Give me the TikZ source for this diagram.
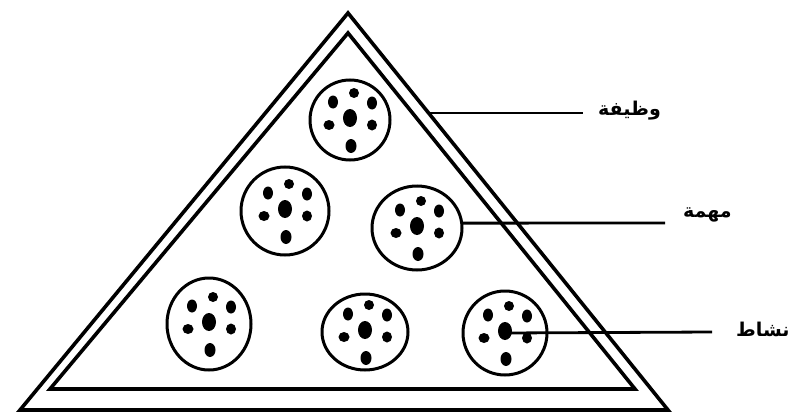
\documentclass[tikz,border=0pt]{standalone}
\usepackage{fontspec}
\newfontfamily\arabicfont[Script=Arabic]{DejaVu Sans}
\TeXXeTstate=1
\usetikzlibrary{shapes.geometric}
\begin{document}
\begin{tikzpicture}[x=1pt,y=-1pt,
  tri/.style={line width=3.6pt, line join=miter},
  cell/.style={draw, ellipse, line width=3pt, inner sep=0pt},
  lead/.style={line width=2.8pt},
  lbl/.style={font=\arabicfont\bfseries\fontsize{19}{22}\selectfont, inner sep=0pt, anchor=west},
  pics/dots/.style={code={
    \fill (0,-2) ellipse (7 and 9);
    \fill (4,-27) ellipse (5 and 5);
    \fill (-17,-18) ellipse (5 and 6.5);
    \fill (22,-17) ellipse (5 and 6.5);
    \fill (-21,5) ellipse (5.5 and 5);
    \fill (22,5) ellipse (5 and 5.5);
    \fill (1,26) ellipse (5.5 and 7);
  }}]
\useasboundingbox (0,0) rectangle (792,412);
\fill[white] (0,0) rectangle (792,412);
% triangles
\draw[tri] (348,13) -- (668,410) -- (20,410) -- cycle;
\draw[tri] (348,33) -- (635,389) -- (50,389) -- cycle;
% cells
\node[cell, minimum width=80pt, minimum height=80pt] (top) at (350,120) {};
\node[cell, minimum width=88pt, minimum height=88pt] (ml) at (285,211) {};
\node[cell, minimum width=90pt, minimum height=84pt] (mr) at (417,228) {};
\node[cell, minimum width=84pt, minimum height=92pt] (bl) at (209,324) {};
\node[cell, minimum width=86pt, minimum height=76pt] (bm) at (365,332) {};
\node[cell, minimum width=84pt, minimum height=84pt] (br) at (505,333) {};
\pic at (top) {dots};
\pic at (ml) {dots};
\pic at (mr) {dots};
\pic at (bl) {dots};
\pic at (bm) {dots};
\pic at (br) {dots};
% labels
\node[lbl] (lw) at (598,111) {\beginR وظيفة\endR};
\node[lbl] (lm) at (683,215) {\beginR مهمة\endR};
\node[lbl] (ln) at (736,329) {\beginR نشاط\endR};
% leaders
\coordinate (wa) at (430,113);
\coordinate (wb) at (583,113);
\coordinate (mb) at (665,223);
\coordinate (nb) at (712,332);
\draw[lead] (wa) -- (wb);
\draw[lead] (mr.6) -- (mb);
\draw[lead] (br.center) -- (nb);
\end{tikzpicture}
\end{document}
